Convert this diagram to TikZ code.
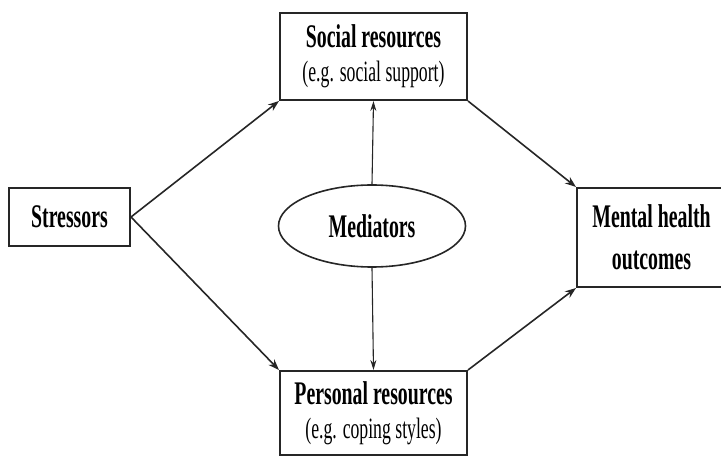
\documentclass[tikz,border=0pt]{standalone}
\usepackage{fontspec}
\setmainfont[FakeStretch=0.6]{Liberation Serif}
\usetikzlibrary{arrows.meta,shapes.geometric}
\begin{document}
\begin{tikzpicture}[x=1pt,y=-1pt,
  boxnode/.style={draw=black!85,line width=2pt,rectangle,inner sep=0pt,align=center,fill=white},
  bigtext/.style={font=\fontsize{33}{34}\selectfont\bfseries},
  conn/.style={line width=1.6pt,draw=black!85,-{Stealth[length=11pt,width=8pt]}},
  vconn/.style={line width=1.1pt,draw=black!85,-{Stealth[length=10pt,width=6pt]}}]
\useasboundingbox (0,0) rectangle (721,457);
\begin{scope}
\clip (0,0) rectangle (721,457);
\node[boxnode,minimum width=187pt,minimum height=87pt,font=\fontsize{33}{34}\selectfont] (soc) at (373.5,56.5)
  {\textbf{Social resources}\\[0pt]{\fontsize{29.5}{30}\selectfont (e.g. social support)}};
\node[boxnode,minimum width=187pt,minimum height=84pt,font=\fontsize{33}{34}\selectfont] (per) at (373.5,413)
  {\textbf{Personal resources}\\[0pt]{\fontsize{29.5}{30}\selectfont (e.g. coping styles)}};
\node[boxnode,minimum width=121pt,minimum height=58pt,bigtext] (str) at (69.5,217) {Stressors};
\node[boxnode,minimum width=149pt,minimum height=99pt,bigtext] (men) at (651.5,237.5) {Mental health\\[8pt]outcomes};
\node[draw=black!85,line width=1.6pt,ellipse,minimum width=187pt,minimum height=82pt,inner sep=0pt,bigtext] (med) at (372,226) {Mediators};
\draw[conn] (str.east) -- (soc.south west);
\draw[conn] (str.east) -- (per.north west);
\draw[conn] (soc.south east) -- (men.north west);
\draw[conn] (per.north east) -- (men.south west);
\draw[vconn] (med.north) -- (soc.south);
\draw[vconn] (med.south) -- (per.north);
\end{scope}
\end{tikzpicture}
\end{document}
